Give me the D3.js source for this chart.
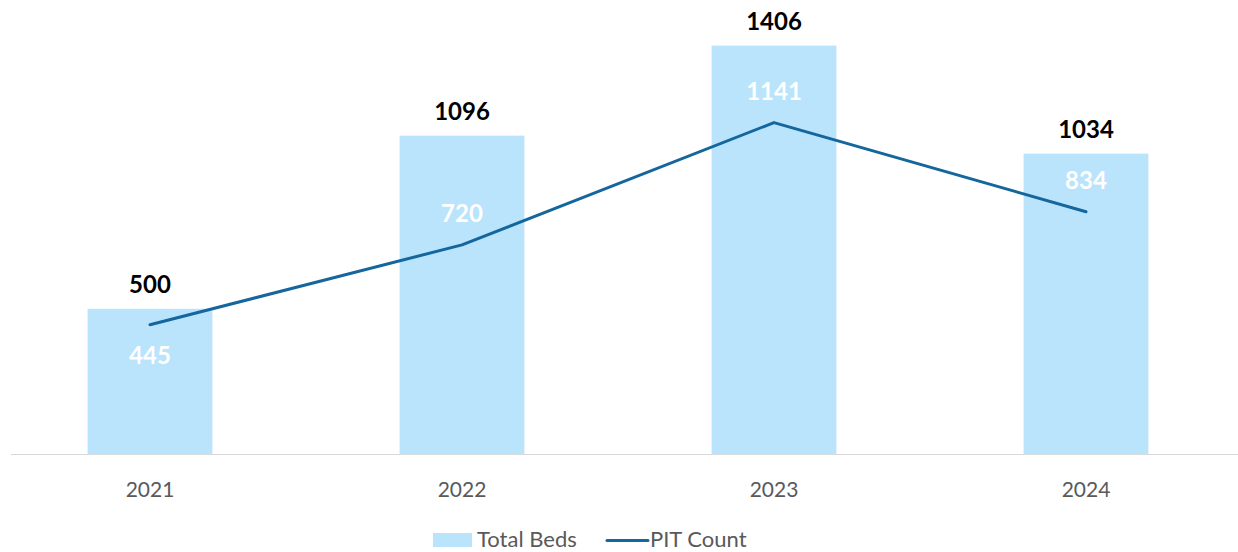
<!DOCTYPE html>
<html>
<head>
<meta charset="utf-8">
<script src="https://cdn.jsdelivr.net/npm/d3@7"></script>
<style>
  body { margin: 0; background: #fff; }
  svg { display: block; font-family: Lato, "Open Sans", sans-serif; }
</style>
</head>
<body>
<svg id="grafico"></svg>
<script>
const anos = ['2021', '2022', '2023', '2024'];
const leitosTotais = [500, 1096, 1406, 1034];
const contagemPIT = [445, 720, 1141, 834];

const largura = 1238, altura = 552;
const base = 454;

const svg = d3.select('#grafico')
    .attr('width', largura)
    .attr('height', altura);

const fnX = d3.scaleBand()
    .domain(anos)
    .range([-6, 1242])
    .paddingInner(0.6)
    .paddingOuter(0.3);

const fnY = d3.scaleLinear()
    .domain([0, 1563])
    .range([base, 0]);

const dados = anos.map((a, i) => ({ ano: a, leitos: leitosTotais[i], pit: contagemPIT[i] }));

// barras
svg.selectAll('.barra').data(dados).enter().append('rect')
    .attr('class', 'barra')
    .attr('x', d => fnX(d.ano))
    .attr('y', d => fnY(d.leitos))
    .attr('width', fnX.bandwidth())
    .attr('height', d => base - fnY(d.leitos))
    .attr('fill', '#b9e4fc');

// eixo x
const eixoX = d3.axisBottom(fnX).tickSize(0).tickPadding(28);
const gEixo = svg.append('g')
    .attr('transform', 'translate(0,' + base + ')')
    .call(eixoX);
gEixo.select('.domain').remove();
gEixo.append('line')
    .attr('x1', 11).attr('x2', largura)
    .attr('y1', 0.5).attr('y2', 0.5)
    .attr('stroke', '#d9d9d9').attr('stroke-width', 1);
gEixo.selectAll('text')
    .attr('fill', '#595959')
    .style('font-size', '21px')
    .style('font-family', 'Lato, "Open Sans", sans-serif');

// linha
const linha = d3.line()
    .x(d => fnX(d.ano) + fnX.bandwidth() / 2)
    .y(d => fnY(d.pit));

svg.append('path')
    .datum(dados)
    .attr('d', linha)
    .attr('fill', 'none')
    .attr('stroke', '#14669c')
    .attr('stroke-width', 3)
    .attr('stroke-linecap', 'round')
    .attr('stroke-linejoin', 'round');

// rotulos das barras
svg.selectAll('.rotulo').data(dados).enter().append('text')
    .attr('class', 'rotulo')
    .attr('x', d => fnX(d.ano) + fnX.bandwidth() / 2)
    .attr('y', d => fnY(d.leitos) - 16)
    .attr('text-anchor', 'middle')
    .attr('fill', '#000')
    .style('font-size', '24px')
    .style('font-weight', 'bold')
    .text(d => d.leitos);

// rotulos da linha
svg.selectAll('.rotuloPIT').data(dados).enter().append('text')
    .attr('class', 'rotuloPIT')
    .attr('x', d => fnX(d.ano) + fnX.bandwidth() / 2)
    .attr('y', d => {
        const p = fnY(d.pit);
        return (p - fnY(d.leitos) < 40) ? p + 39 : p - 23;
    })
    .attr('text-anchor', 'middle')
    .attr('fill', '#fff')
    .style('font-size', '24px')
    .style('font-weight', 'bold')
    .text(d => d.pit);

// legenda
const leg = svg.append('g');
leg.append('rect')
    .attr('x', 433).attr('y', 533)
    .attr('width', 39).attr('height', 14)
    .attr('fill', '#b9e4fc');
leg.append('text')
    .attr('x', 477).attr('y', 547)
    .attr('fill', '#595959')
    .style('font-size', '22px')
    .text('Total Beds');
leg.append('line')
    .attr('x1', 607).attr('x2', 648)
    .attr('y1', 540.5).attr('y2', 540.5)
    .attr('stroke', '#14669c')
    .attr('stroke-width', 3)
    .attr('stroke-linecap', 'round');
leg.append('text')
    .attr('x', 650).attr('y', 547)
    .attr('fill', '#595959')
    .style('font-size', '22px')
    .text('PIT Count');
</script>
</body>
</html>
